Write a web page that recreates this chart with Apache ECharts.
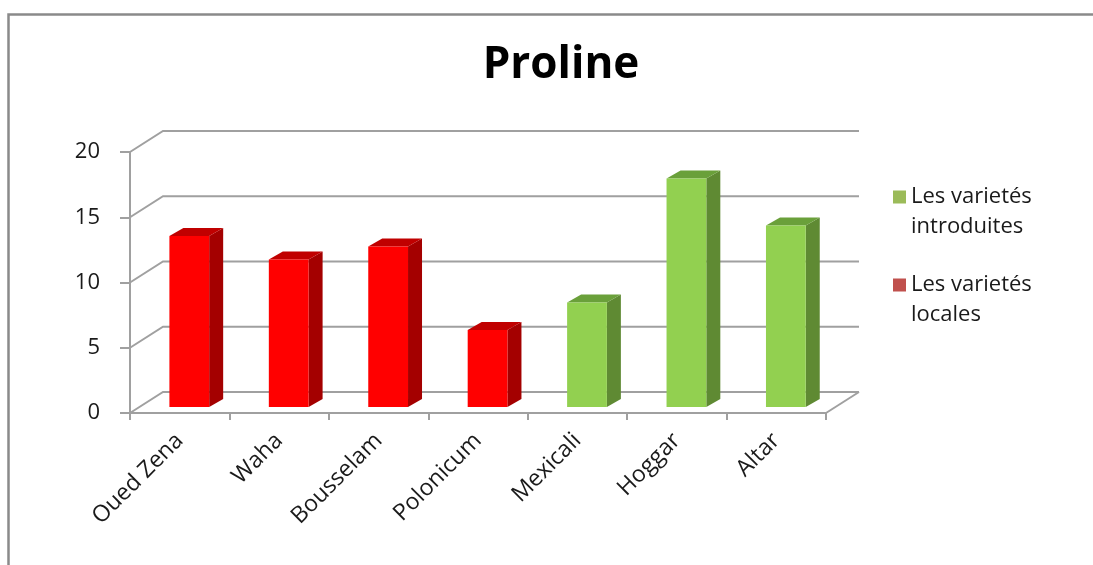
<!DOCTYPE html>
<html>
<head>
<meta charset="utf-8">
<script src="https://cdn.jsdelivr.net/npm/echarts@6/dist/echarts.min.js"></script>
<style>
  html, body { margin: 0; padding: 0; background: #fff; }
  #chart { width: 1093px; height: 565px; }
</style>
</head>
<body>
<div id="chart"></div>
<script>
// Proline content per wheat variety
const categories = ['Oued Zena', 'Waha', 'Bousselam', 'Polonicum', 'Mexicali', 'Hoggar', 'Altar'];
const localesValues = [13.1, 11.3, 12.3, 5.9, null, null, null];
const introduitesValues = [null, null, null, null, 8.0, 17.5, 13.9];
const yTicks = [0, 5, 10, 15, 20];

const SERIES_INTRO = 'Les varietés introduites';
const SERIES_LOCAL = 'Les varietés locales';

// Pseudo-3D geometry (pixels)
const WALL_DX = 33, WALL_DY = 21;   // depth of floor / back wall
const BAR_POS = 0.29;               // front face of the bars inside the depth
const BAR_DX = 14, BAR_DY = 8;      // thickness of each bar
const GRID_COLOR = '#a0a0a0';
const TEXT_COLOR = '#1a1a1a';

function toData(values) {
  const out = [];
  values.forEach((v, i) => { if (v !== null) out.push([i, v]); });
  return out;
}

function makeBarRenderer(front, side, top) {
  return function (params, api) {
    const idx = api.value(0), val = api.value(1);
    const base = api.coord([idx, 0]);
    const peak = api.coord([idx, val]);
    const band = api.size([1, 0])[0];
    const w = band * 0.4;
    const ox = WALL_DX * BAR_POS, oy = -WALL_DY * BAR_POS;
    const x0 = base[0] - w / 2 + ox, x1 = x0 + w;
    const yb = base[1] + oy, yt = peak[1] + oy;
    return {
      type: 'group',
      children: [
        { type: 'polygon', shape: { points: [[x1, yb], [x1, yt], [x1 + BAR_DX, yt - BAR_DY], [x1 + BAR_DX, yb - BAR_DY]] },
          style: { fill: side } },
        { type: 'polygon', shape: { points: [[x0, yt], [x1, yt], [x1 + BAR_DX, yt - BAR_DY], [x0 + BAR_DX, yt - BAR_DY]] },
          style: { fill: top } },
        { type: 'rect', shape: { x: x0, y: yt, width: w, height: yb - yt },
          style: { fill: front } }
      ]
    };
  };
}

function renderWall(params, api) {
  const v = api.value(0);
  const cs = params.coordSys;
  const y = api.coord([0, v])[1];
  const xl = cs.x, xr = cs.x + cs.width;
  const children = [{
    type: 'polyline',
    shape: { points: [[xl, y], [xl + WALL_DX, y - WALL_DY], [xr + WALL_DX, y - WALL_DY]] },
    style: { stroke: GRID_COLOR, lineWidth: 2, fill: null }
  }];
  if (v === 0) {
    children.push({
      type: 'line',
      shape: { x1: xr, y1: y, x2: xr + WALL_DX, y2: y - WALL_DY },
      style: { stroke: GRID_COLOR, lineWidth: 2 }
    });
  }
  return { type: 'group', children: children };
}

const chart = echarts.init(document.getElementById('chart'), null, { renderer: 'canvas' });

chart.setOption({
  backgroundColor: '#ffffff',
  animation: false,
  textStyle: { fontFamily: 'Open Sans' },
  title: {
    text: 'Proline',
    left: 556,
    textAlign: 'center',
    top: 38,
    textStyle: { fontFamily: 'Open Sans', fontWeight: 'bold', fontSize: 44, color: '#000' }
  },
  legend: {
    orient: 'vertical',
    left: 888,
    top: 177,
    itemWidth: 13,
    itemHeight: 60,
    itemGap: 28,
    icon: 'path://M0,0h0.01v0.01h-0.01z M0,8.5h13v13h-13z M0,60h0.01v0.01h-0.01z',
    data: [SERIES_INTRO, SERIES_LOCAL],
    formatter: function (name) {
      const k = name.lastIndexOf(' ');
      return name.slice(0, k) + '\n' + name.slice(k + 1);
    },
    textStyle: { fontFamily: 'Open Sans', fontSize: 22, lineHeight: 30, color: TEXT_COLOR }
  },
  grid: { left: 130, top: 152, width: 696, height: 261 },
  xAxis: {
    type: 'category',
    data: categories,
    axisLine: { lineStyle: { color: GRID_COLOR, width: 2 } },
    axisTick: { show: true, length: 7, lineStyle: { color: GRID_COLOR, width: 2 } },
    axisLabel: { rotate: 45, margin: 24, fontSize: 23, color: TEXT_COLOR, fontFamily: 'Open Sans' },
    splitLine: { show: false }
  },
  yAxis: {
    type: 'value',
    min: yTicks[0],
    max: yTicks[yTicks.length - 1],
    interval: 5,
    axisLine: { show: true, lineStyle: { color: GRID_COLOR, width: 2 } },
    axisTick: { show: true, length: 10, lineStyle: { color: GRID_COLOR, width: 2 } },
    axisLabel: { margin: 30, fontSize: 22, color: TEXT_COLOR, fontFamily: 'Open Sans' },
    splitLine: { show: false }
  },
  graphic: [{
    type: 'polyline',
    shape: { points: [[8.5, 600], [8.5, 14.5], [1100, 14.5]] },
    style: { stroke: '#8a8a8a', lineWidth: 2.5, fill: null },
    silent: true
  }],
  series: [
    {
      name: 'walls',
      type: 'custom',
      renderItem: renderWall,
      data: yTicks.map(v => [v]),
      encode: { y: 0 },
      z: 1,
      silent: true
    },
    {
      name: SERIES_INTRO,
      type: 'custom',
      itemStyle: { color: '#9bbb59' },
      renderItem: makeBarRenderer('#92d050', '#5f8a33', '#6aa03a'),
      data: toData(introduitesValues),
      encode: { x: 0, y: 1 },
      z: 3
    },
    {
      name: SERIES_LOCAL,
      type: 'custom',
      itemStyle: { color: '#c0504d' },
      renderItem: makeBarRenderer('#ff0000', '#a40000', '#c00000'),
      data: toData(localesValues),
      encode: { x: 0, y: 1 },
      z: 3
    }
  ]
});
</script>
</body>
</html>
